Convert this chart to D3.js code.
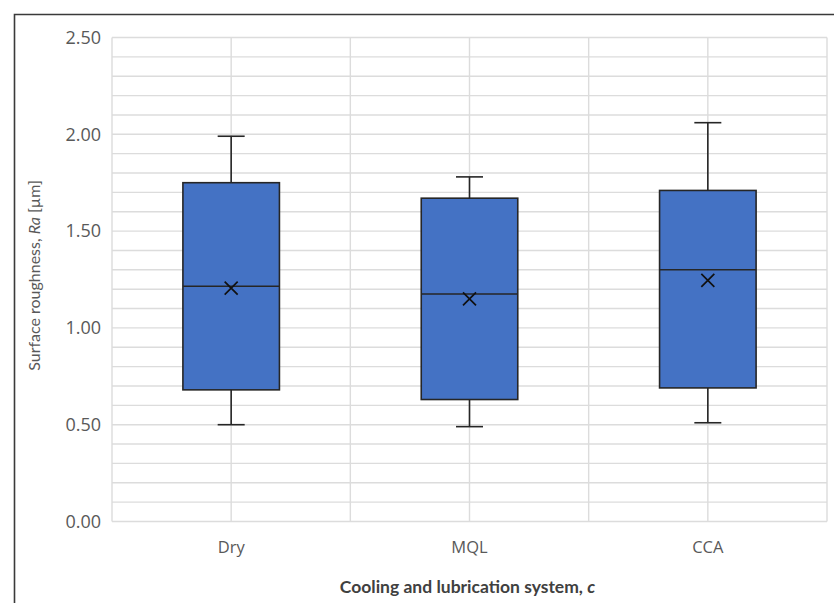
<!DOCTYPE html>
<html>
<head>
<meta charset="utf-8">
<script src="https://cdn.jsdelivr.net/npm/d3@7/dist/d3.min.js"></script>
<style>
  html, body { margin: 0; padding: 0; background: #fff; }
  svg { display: block; }
</style>
</head>
<body>
<svg id="chart" width="834" height="603"></svg>
<script>
// Surface roughness box plot by cooling / lubrication system
const categories = ["Dry", "MQL", "CCA"];
const whiskerLow  = [0.50, 0.49, 0.51];
const q1          = [0.68, 0.63, 0.69];
const median      = [1.215, 1.175, 1.30];
const q3          = [1.75, 1.67, 1.71];
const whiskerHigh = [1.99, 1.78, 2.06];
const mean        = [1.205, 1.15, 1.245];
const yTicks      = [0, 0.5, 1.0, 1.5, 2.0, 2.5];
const yMinor      = d3.range(0, 2.51, 0.1).map(v => +v.toFixed(2));

const boxes = categories.map((c, i) => ({
  cat: c, lo: whiskerLow[i], q1: q1[i], med: median[i], q3: q3[i], hi: whiskerHigh[i], mean: mean[i]
}));

const svg = d3.select("#chart");
const W = 834, H = 603;
const plot = { left: 112, right: 827, top: 37.5, bottom: 521.5 };

// outer frame (open on right and bottom)
svg.append("path")
  .attr("d", `M14.5,${H + 2} L14.5,14.5 L${W + 2},14.5`)
  .attr("fill", "none").attr("stroke", "#3a3a3a").attr("stroke-width", 1.6);

const x = d3.scaleBand().domain(categories).range([plot.left, plot.right]).padding(0);
const y = d3.scaleLinear().domain([0, 2.5]).range([plot.bottom, plot.top]);

const grid = svg.append("g").attr("stroke", "#dcdcdc").attr("stroke-width", 1.4).attr("fill", "none");
// horizontal gridlines every 0.1
grid.selectAll("line.h").data(yMinor).join("line")
  .attr("x1", plot.left).attr("x2", plot.right)
  .attr("y1", d => y(d)).attr("y2", d => y(d));
// vertical gridlines at band edges and centres
const vx = [];
categories.forEach(c => { vx.push(x(c)); vx.push(x(c) + x.bandwidth() / 2); });
vx.push(plot.right);
grid.selectAll("line.v").data(vx).join("line")
  .attr("x1", d => d).attr("x2", d => d)
  .attr("y1", plot.top).attr("y2", plot.bottom);

// y axis labels
const yAxis = d3.axisLeft(y).tickValues(yTicks).tickFormat(d3.format(".2f")).tickSize(0).tickPadding(11);
const yg = svg.append("g").attr("transform", `translate(${plot.left},0)`).call(yAxis);
yg.select(".domain").remove();
yg.selectAll("text")
  .attr("font-family", "'Open Sans', sans-serif").attr("font-size", 18).attr("fill", "#595959");

// x axis labels
const xAxis = d3.axisBottom(x).tickSize(0).tickPadding(20);
const xg = svg.append("g").attr("transform", `translate(0,${plot.bottom})`).call(xAxis);
xg.select(".domain").remove();
xg.selectAll("text")
  .attr("font-family", "'Open Sans', sans-serif").attr("font-size", 16.5).attr("fill", "#595959");

// boxes
const boxW = x.bandwidth() * 0.405;
const capW = 27;
const g = svg.append("g");
const bx = g.selectAll("g.box").data(boxes).join("g")
  .attr("transform", d => `translate(${x(d.cat) + x.bandwidth() / 2},0)`);

const dark = "#262626";
bx.append("line").attr("x1", 0).attr("x2", 0)
  .attr("y1", d => y(d.hi)).attr("y2", d => y(d.q3))
  .attr("stroke", dark).attr("stroke-width", 1.6);
bx.append("line").attr("x1", 0).attr("x2", 0)
  .attr("y1", d => y(d.q1)).attr("y2", d => y(d.lo))
  .attr("stroke", dark).attr("stroke-width", 1.6);
bx.append("line").attr("x1", -capW / 2).attr("x2", capW / 2)
  .attr("y1", d => y(d.hi)).attr("y2", d => y(d.hi))
  .attr("stroke", dark).attr("stroke-width", 1.6);
bx.append("line").attr("x1", -capW / 2).attr("x2", capW / 2)
  .attr("y1", d => y(d.lo)).attr("y2", d => y(d.lo))
  .attr("stroke", dark).attr("stroke-width", 1.6);
bx.append("rect")
  .attr("x", -boxW / 2).attr("width", boxW)
  .attr("y", d => y(d.q3)).attr("height", d => y(d.q1) - y(d.q3))
  .attr("fill", "#4472c4").attr("stroke", dark).attr("stroke-width", 1.6);
bx.append("line").attr("x1", -boxW / 2).attr("x2", boxW / 2)
  .attr("y1", d => y(d.med)).attr("y2", d => y(d.med))
  .attr("stroke", dark).attr("stroke-width", 1.6);
// mean marker
const m = 6.5;
bx.append("path")
  .attr("d", d => `M${-m},${y(d.mean) - m}L${m},${y(d.mean) + m}M${m},${y(d.mean) - m}L${-m},${y(d.mean) + m}`)
  .attr("stroke", "#111").attr("stroke-width", 1.7).attr("fill", "none");

// axis titles
const yt = svg.append("text")
  .attr("transform", `translate(40,${(plot.top + plot.bottom) / 2 - 4}) rotate(-90)`)
  .attr("text-anchor", "middle")
  .attr("font-family", "Lato, sans-serif").attr("font-size", 16).attr("fill", "#595959");
yt.append("tspan").text("Surface roughness, ");
yt.append("tspan").attr("font-style", "italic").text("Ra");
yt.append("tspan").text(" [µm]");

const xt = svg.append("text")
  .attr("x", (plot.left + plot.right) / 2 - 2).attr("y", 593)
  .attr("text-anchor", "middle")
  .attr("font-family", "Lato, sans-serif").attr("font-size", 17.5).attr("font-weight", "bold").attr("fill", "#404040");
xt.append("tspan").text("Cooling and lubrication system, ");
xt.append("tspan").attr("font-style", "italic").text("c");
</script>
</body>
</html>
